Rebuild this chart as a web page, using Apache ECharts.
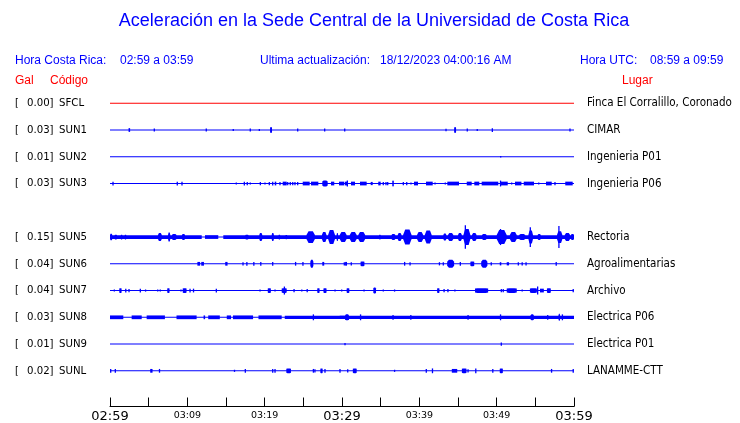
<!DOCTYPE html>
<html>
<head>
<meta charset="utf-8">
<script src="https://cdn.jsdelivr.net/npm/echarts@6/dist/echarts.min.js"></script>
<style>
html,body{margin:0;padding:0;background:#fff;}
#chart{width:740px;height:423px;}
</style>
</head>
<body>
<div id="chart"></div>
<script>
// ---------- DATA ----------
// Stations in display order (SUN4 has no record in this window)
const STATIONS = ['SFCL','SUN1','SUN2','SUN3','SUN4','SUN5','SUN6','SUN7','SUN8','SUN9','SUNL'];
const PGA = [0.00, 0.03, 0.01, 0.03, null, 0.15, 0.04, 0.04, 0.03, 0.01, 0.02];
const PLACES = ['Finca El Corralillo, Coronado','CIMAR','Ingenieria P01','Ingenieria P06','',
  'Rectoria','Agroalimentarias','Archivo','Electrica P06','Electrica P01','LANAMME-CTT'];
// time axis: minutes after 02:59 (Costa Rica time)
const TICK_LABELS = ['02:59','03:09','03:19','03:29','03:39','03:49','03:59'];

// Trace envelopes read from the record: [startMinute, endMinute, halfAmplitude (% of trace spacing)]
const SFCL_TRACE = [[0,60,1.85]];
const SUN1_TRACE = [[0,60,1.85],[2.4,2.6,7],[5.73,5.73,6],[12.45,12.45,6],[15.94,15.94,4],[18.14,18.14,6],
  [19.31,19.31,4],[20.7,20.95,11],[24.27,24.27,6],[27.76,27.76,6],[30.35,30.5,6],[43.45,43.45,5],
  [44.5,44.75,11],[46.2,46.2,6],[47.49,47.49,4],[49.44,49.44,7],[59.48,59.48,6]];
const SUN2_TRACE = [[0,60,1.85],[50.52,50.52,3]];
const SUN3_TRACE = [[0,60,1.85],[0.39,0.39,7],[8.7,8.7,7],[9.31,9.31,7],[16.33,16.33,4],[17.37,17.37,7],
  [17.75,17.75,6],[18.14,18.14,4],[19.44,19.44,6],[20.04,20.04,4],[20.6,20.7,6],[21.04,21.04,7],
  [21.3,21.5,7],[21.98,21.98,6],[22.33,22.85,7],[22.98,22.98,6],[23.31,23.31,6],[23.63,23.63,6],
  [23.92,23.92,6],[24.27,24.27,6],[24.92,25.82,7],[25.99,26.94,7],[27.45,28.15,11],[28.58,29.0,7],
  [29.61,30.3,7],[30.39,30.69,7],[30.69,30.75,11],[31.16,31.68,7],[32.33,33.19,7],[33.71,33.97,6],
  [34.69,35.0,7],[35.34,35.34,6],[35.69,35.69,6],[35.91,35.91,6],[36.5,36.7,11],[37.93,37.93,6],
  [38.37,38.37,6],[38.92,38.92,4],[39.31,39.83,7],[40.86,41.73,7],[42.03,42.03,4],[43.36,43.36,4],
  [43.62,45.13,7],[46.13,46.77,7],[47.11,47.75,7],[48.06,50.21,7],[50.43,51.43,7],[50.5,50.6,11],
  [51.94,51.94,4],[52.37,53.2,7],[53.5,54.83,7],[55.44,55.44,4],[56.38,57.12,7],[57.54,57.54,6],
  [58.87,59.83,7]];
const SUN4_TRACE = null;
const SUN5_TRACE = [[0,60,1.85],[0,11.86,7],[12.28,14.0,7],[14.65,60,7],
  [0,0.3,12],[0.6,0.9,9],[1.4,1.6,9],[1.9,2.1,9],[6.2,6.7,15],[7.5,7.8,17],[8.0,8.6,11],[9.3,9.7,11],
  [17.5,17.9,9],[19.3,19.7,15],[20.9,21.2,15],[21.8,22.0,9],[22.7,22.9,8],[25.4,26.5,22],[27.4,28.0,19],
  [28.2,29.1,26],[29.3,29.5,15],[29.7,30.6,19],[31.0,31.9,19],[32.1,33.0,19],[34.8,35.0,9],[36.4,36.9,11],
  [37.2,37.7,15],[37.9,39.0,28],[39.7,40.5,19],[40.7,41.6,24],[43.1,43.5,13],[43.7,44.4,15],[45.0,45.5,15],
  [45.7,46.6,30],[45.95,46.1,44],[46.8,47.4,15],[48.1,48.7,11],[50.0,51.3,26],[50.5,50.65,30],
  [51.7,52.6,19],[52.9,53.7,11],[54.1,54.7,24],[54.35,54.45,37],[55.3,55.7,11],[57.8,58.5,22],
  [58.05,58.15,41],[58.8,59.5,15],[59.6,60,11]];
const SUN6_TRACE = [[0,60,1.85],[11.3,11.65,7],[11.8,12.15,7],[14.9,15.2,7],[17.2,17.2,6],[17.7,17.7,7],
  [18.6,18.6,7],[19.5,19.5,7],[21.04,21.04,7],[24.0,24.0,7],[24.95,24.95,7],[25.9,26.3,15],[27.45,27.7,7],
  [30.3,30.3,6],[30.4,30.65,7],[31.2,31.2,6],[32.4,32.9,9],[38.1,38.1,7],[38.8,38.8,6],[42.6,42.6,6],
  [43.1,43.1,6],[43.6,44.5,15],[45.3,45.3,7],[46.6,47.1,9],[48.0,48.8,15],[49.3,49.3,6],[50.4,50.6,6],
  [51.3,51.6,6],[52.8,52.8,6],[53.3,53.3,6],[53.8,53.8,6],[57.7,57.7,7]];
const SUN7_TRACE = [[0,60,1.85],[0.56,0.56,4],[1.2,1.5,9],[2.04,2.04,7],[2.46,2.46,6],[3.92,3.92,7],
  [4.6,4.6,4],[6.17,6.17,4],[6.5,6.5,4],[7.4,7.7,9],[9.18,9.18,4],[9.4,9.9,9],[10.35,10.35,7],
  [10.8,10.8,7],[13.75,13.75,7],[19.4,19.4,4],[20.4,20.8,9],[21.34,21.34,4],[22.2,22.85,9],
  [22.55,22.6,15],[23.8,23.8,6],[24.8,24.8,4],[25.5,25.5,6],[26.8,27.1,9],[27.6,28.0,9],[29.1,29.1,4],
  [29.96,29.96,4],[30.6,30.95,9],[32.85,32.85,4],[34.05,34.4,11],[35.34,35.34,4],[36.8,36.8,4],
  [42.3,42.6,9],[43.2,43.2,6],[43.7,43.7,6],[44.6,44.6,4],[47.2,48.9,9],[50.6,50.6,6],[50.85,50.85,6],
  [51.3,52.6,9],[53.3,53.3,4],[54.3,55.2,9],[55.3,55.4,15],[55.6,56.1,7],[56.5,57.0,9],[59.9,59.9,6]];
const SUN8_TRACE = [[0,60,1.85],[0,1.72,7],[2.8,4.1,7],[4.74,7.1,7],[8.6,11.2,7],[12.1,12.3,7],
  [12.7,14.2,7],[15.1,15.65,7],[15.9,18.5,7],[19.2,22.2,7],[22.6,30.4,6],[29.7,60,6],
  [26.3,26.4,11],[30.4,30.9,11],[32.4,32.4,11],[36.6,36.6,9],[38.9,38.9,9],[46.3,46.3,9],[50.5,50.5,11],
  [54.4,54.8,11],[56.6,56.6,9],[58.0,58.2,13],[58.5,58.5,11]];
const SUN9_TRACE = [[0,60,1.85],[30.39,30.39,4],[50.6,50.6,6]];
const SUNL_TRACE = [[0,60,1.85],[0.09,0.09,7],[0.69,0.69,7],[5.2,5.5,7],[6.4,6.4,7],[16.1,16.1,4],
  [17.5,17.5,7],[21.04,21.04,7],[21.34,21.34,7],[22.8,23.4,9],[26.3,26.3,7],[26.5,26.5,6],[27.2,27.5,9],
  [27.8,27.8,7],[29.74,29.74,7],[30.74,30.74,6],[31.4,31.9,9],[36.8,36.8,4],[40.9,40.9,7],[41.7,41.7,9],
  [44.2,44.9,7],[45.5,46.1,9],[46.3,46.3,6],[47.3,47.3,9],[49.5,49.5,7],[50.4,50.8,9],[57.1,57.1,7],
  [59.9,59.9,7]];
const TRACES = [SFCL_TRACE,SUN1_TRACE,SUN2_TRACE,SUN3_TRACE,SUN4_TRACE,SUN5_TRACE,SUN6_TRACE,
  SUN7_TRACE,SUN8_TRACE,SUN9_TRACE,SUNL_TRACE];

// ---------- CHART ----------
const BLUE = '#0000ff', RED = '#ff0000';
const LABEL_FONT = '"DejaVu Sans Condensed", "DejaVu Sans", sans-serif';
const HEAD_FONT = '"Liberation Sans", Arial, sans-serif';
const chart = echarts.init(document.getElementById('chart'), null, {renderer:'canvas'});

function makeRender(color){
  return function(params, api){
    const t0 = api.value(0), t1 = api.value(1), row = api.value(2), amp = api.value(3);
    const p0 = api.coord([t0, row]);
    const p1 = api.coord([t1, row]);
    const h = api.size([0, amp/100])[1];
    let w = p1[0] - p0[0];
    let x = p0[0];
    if (w < 1.3) {
      return {type:'rect', shape:{x:p0[0]-0.65, y:p0[1]-h, width:1.3, height:2*h}, style:{fill:color}};
    }
    const yc = p0[1];
    if (h <= 1) {
      return {type:'rect', shape:{x:x, y:yc-h, width:w, height:2*h}, style:{fill:color}};
    }
    // burst envelope, slightly tapered at its ends
    const tp = Math.min(w*0.25, 2.5);
    const core = Math.min(h, 2);
    const pts = [
      [x, yc-core],[x+tp, yc-h],[x+w-tp, yc-h],[x+w, yc-core],
      [x+w, yc+core],[x+w-tp, yc+h],[x+tp, yc+h],[x, yc+core]
    ];
    return {type:'polygon', shape:{points:pts}, style:{fill:color}};
  };
}

const series = [];
STATIONS.forEach((code, i) => {
  const tr = TRACES[i];
  if (!tr) return;
  const row = i + 1;
  series.push({
    type:'custom', name:code, animation:false, silent:true,
    renderItem: makeRender(code === 'SFCL' ? RED : BLUE),
    encode:{x:[0,1], y:2},
    data: tr.map(b => [b[0], b[1], row, b[2]])
  });
});

const option = {
  backgroundColor:'#ffffff',
  animation:false,
  grid:{left:110, right:166, top:76.5, height:333},
  xAxis:{
    type:'value', min:0, max:60, interval:5, position:'bottom',
    axisLine:{show:true, onZero:false, lineStyle:{color:'#000', width:1}},
    axisTick:{show:true, inside:true, length:9, lineStyle:{color:'#000', width:1}},
    splitLine:{show:false},
    axisLabel:{
      show:true, margin:2, showMinLabel:true, showMaxLabel:true,
      formatter:function(v){
        if (v % 10 !== 0) return '';
        const lab = TICK_LABELS[v/10];
        return (v % 30 === 0) ? '{b|' + lab + '}' : '{s|' + lab + '}';
      },
      rich:{
        b:{fontFamily:'"DejaVu Sans", sans-serif', fontSize:13, color:'#000', lineHeight:15, padding:[1,0,0,0]},
        s:{fontFamily:'"DejaVu Sans", sans-serif', fontSize:9.5, color:'#000', lineHeight:12, padding:[2,0,0,0]}
      }
    }
  },
  yAxis:{type:'value', min:0, max:333/27, inverse:true, show:false},
  series: series
};
chart.setOption(option);

// texts
const graphics = [];
function txt(x, y, s, opts){
  graphics.push({type:'text', x:x, y:y, silent:true, style:Object.assign({
    text:s, fill:'#000', font:'11px ' + LABEL_FONT, textVerticalAlign:'middle', textAlign:'left'
  }, opts||{})});
}
txt(374, 21, 'Aceleración en la Sede Central de la Universidad de Costa Rica',
  {fill:BLUE, font:'18px ' + HEAD_FONT, textAlign:'center'});
txt(15, 60.5, 'Hora Costa Rica:', {fill:BLUE, font:'12px ' + HEAD_FONT});
txt(120, 60.5, TICK_LABELS[0] + ' a ' + TICK_LABELS[TICK_LABELS.length-1], {fill:BLUE, font:'12px ' + HEAD_FONT});
txt(260, 60.5, 'Ultima actualización:', {fill:BLUE, font:'12px ' + HEAD_FONT});
txt(380, 60.5, '18/12/2023 04:00:16 AM', {fill:BLUE, font:'12px ' + HEAD_FONT});
txt(580, 60.5, 'Hora UTC:', {fill:BLUE, font:'12px ' + HEAD_FONT});
txt(650, 60.5, '08:59 a 09:59', {fill:BLUE, font:'12px ' + HEAD_FONT});
txt(15, 80.5, 'Gal', {fill:RED, font:'12px ' + HEAD_FONT});
txt(50, 80.5, 'Código', {fill:RED, font:'12px ' + HEAD_FONT});
txt(622, 80.5, 'Lugar', {fill:RED, font:'12px ' + HEAD_FONT});

STATIONS.forEach((code, i) => {
  if (PGA[i] === null) return;
  const y = chart.convertToPixel({gridIndex:0}, [0, i + 1])[1];
  txt(15, y, '[');
  txt(27, y, PGA[i].toFixed(2) + ']', {font:'11.3px ' + LABEL_FONT});
  txt(59, y, code, {font:'11.3px ' + LABEL_FONT});
  txt(587, y, PLACES[i], {font:'11.5px ' + LABEL_FONT});
});
chart.setOption({graphic: graphics});
</script>
</body>
</html>
